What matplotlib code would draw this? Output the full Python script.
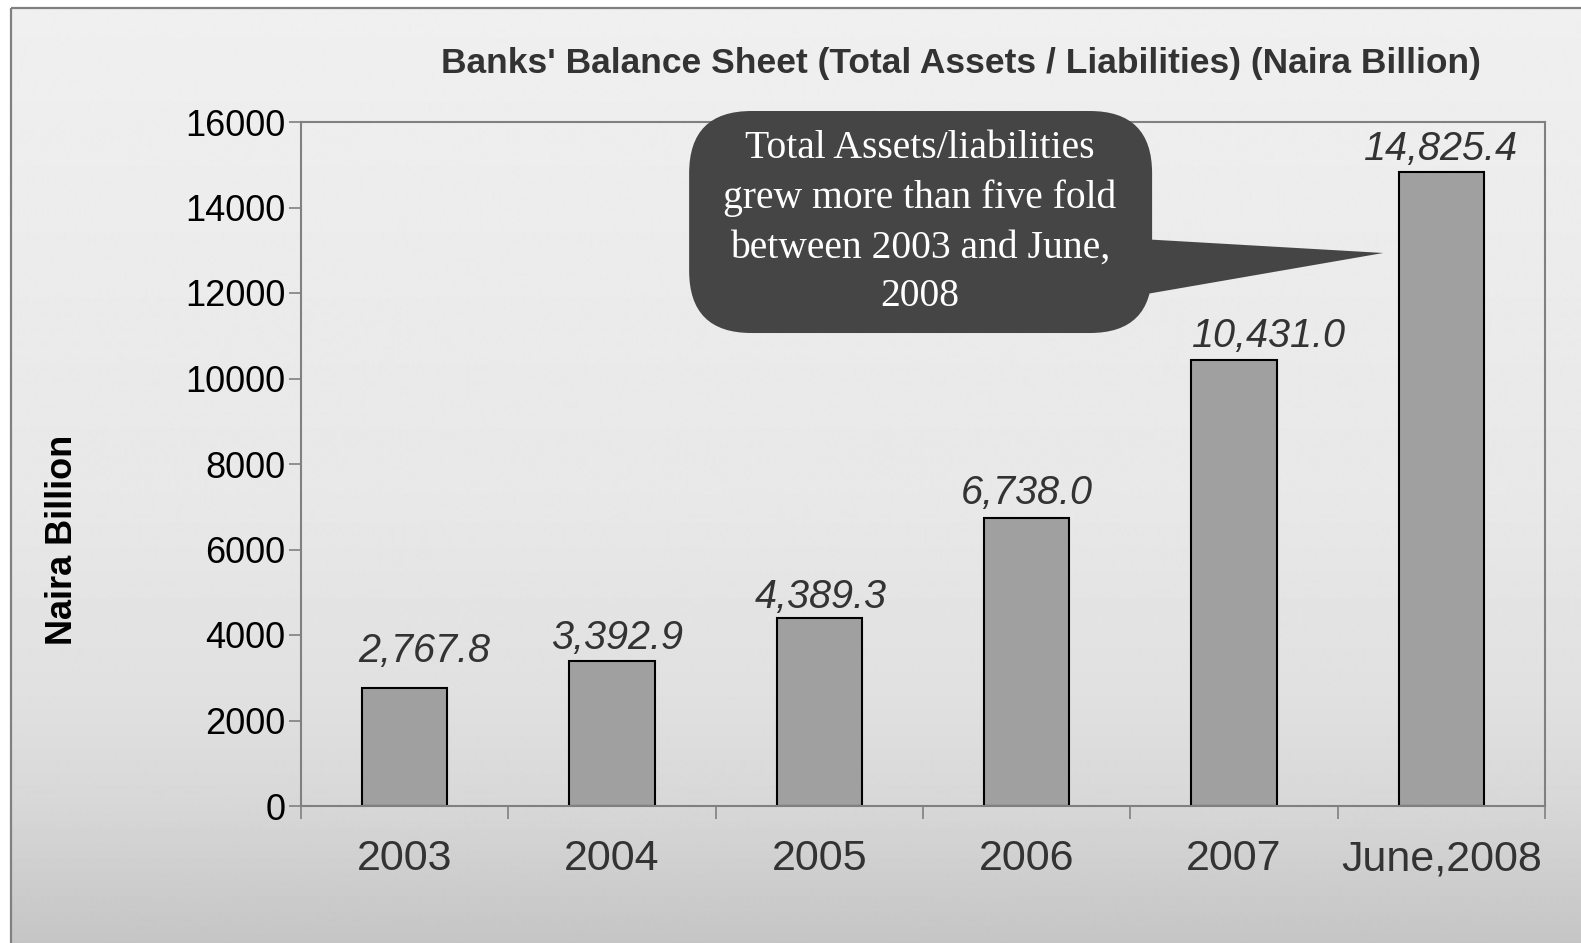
import numpy as np
import matplotlib
matplotlib.use("Agg")
from matplotlib import pyplot as plt
from matplotlib.patches import FancyBboxPatch, Polygon, Rectangle

plt.rcParams['font.family'] = ['Liberation Sans', 'DejaVu Sans']

years = ['2003', '2004', '2005', '2006', '2007', 'June,2008']
assets = [2767.8, 3392.9, 4389.3, 6738.0, 10431.0, 14825.4]
y_ticks = [0, 2000, 4000, 6000, 8000, 10000, 12000, 14000, 16000]
title = "Banks' Balance Sheet (Total Assets / Liabilities) (Naira Billion)"
y_label = 'Naira Billion'
note = 'Total Assets/liabilities\ngrew more than five fold\nbetween 2003 and June,\n2008'

W, H = 1581, 943
fig = plt.figure(figsize=(W / 100, H / 100), dpi=100)
fig.patch.set_facecolor('white')

# background panel: grey vertical gradient inside a thin frame
bg = fig.add_axes([0, 0, 1, 1], zorder=0)
bg.set_xlim(0, W)
bg.set_ylim(H, 0)
bg.axis('off')
rows = np.arange(8, H + 1)
shade = np.interp(rows, [8, 40, 500, 700, 800, 943],
                  [0xf0, 0xef, 0xe8, 0xe0, 0xd8, 0xc5]) / 255.0
grad = np.repeat(shade[:, None], 2, axis=1)
bg.imshow(grad, cmap='gray', vmin=0, vmax=1, aspect='auto',
          extent=(11, W + 2, H, 8), interpolation='bilinear')
bg.add_patch(Rectangle((11, 8), W, H, fill=False, edgecolor='#808080', lw=1.6))

ax = fig.add_axes([301 / W, 1 - 806 / H, (1545 - 301) / W, (806 - 122) / H], zorder=1)
ax.patch.set_alpha(0)
x = np.arange(len(years))
ax.bar(x, assets, width=0.41, color='#a0a0a0', edgecolor='black', linewidth=1.5, zorder=2)

# value labels, nudged a little where they sit off-centre
label_nudge = [(14, 12), (4, 2), (1, 1), (0, 3), (25, 3), (0, 2)]
for xi, v, (dx, dy) in zip(x, assets, label_nudge):
    ax.annotate(f'{v:,.1f}', (xi, v), xytext=(dx, 1 + dy), textcoords='offset points',
                ha='center', va='bottom', fontsize=28.5, fontstyle='italic', color='#333333')

ax.set_xlim(-0.5, len(years) - 0.5)
ax.set_ylim(0, 16000)
ax.set_yticks(y_ticks)
ax.set_yticklabels([str(t) for t in y_ticks], fontsize=26, color='black')
ax.set_xticks(x)
ax.set_xticklabels(years, fontsize=31, color='#333333')
ax.set_xticks(np.arange(-0.5, len(years)), minor=True)
ax.tick_params(axis='x', which='major', length=0, pad=24)
ax.tick_params(axis='x', which='minor', length=9, width=1.2, color='#808080')
ax.tick_params(axis='y', length=9, width=1.2, color='#808080', pad=2)
for s in ax.spines.values():
    s.set_color('#808080')
    s.set_linewidth(1.5)

fig.text(961 / W, 1 - 64 / H, title, ha='center', va='center', fontsize=25.5,
         fontweight='bold', color='#333333')
fig.text(63 / W, 1 - 540 / H, y_label, ha='center', va='center', rotation=90,
         fontsize=26, fontweight='bold', color='black')

# callout bubble pointing at the last bar
ax.add_patch(Polygon([(3.55, 13263), (4.72, 12936), (3.55, 11953)], closed=True,
                     facecolor='#454545', edgecolor='none', clip_on=False, zorder=4))
ax.add_patch(FancyBboxPatch((1.372, 11064), 3.605 - 1.372, 16257 - 11064,
                            boxstyle='round,pad=0,rounding_size=0.3',
                            mutation_aspect=(16000 / 684) / (6 / 1244),
                            facecolor='#454545', edgecolor='none', clip_on=False, zorder=4))
ax.text(2.486, 13640, note, ha='center', va='center', fontsize=28.5, color='white',
        family='Liberation Serif', linespacing=1.43, zorder=5)

fig.savefig('out.png', dpi=100)
